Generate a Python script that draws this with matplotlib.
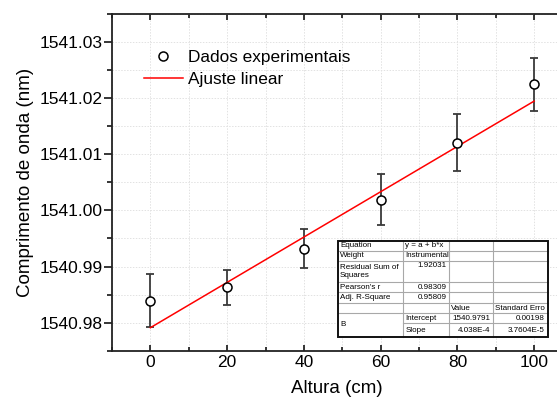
import numpy as np
import matplotlib
matplotlib.use('Agg')
import matplotlib.pyplot as plt
from matplotlib.ticker import MultipleLocator, FormatStrFormatter
from matplotlib.lines import Line2D
from matplotlib.patches import Rectangle

plt.rcParams['font.family'] = ['Liberation Sans', 'DejaVu Sans']
plt.rcParams['font.size'] = 12.5

# data
altura = [0, 20, 40, 60, 80, 100]
comprimento = [1540.9839, 1540.9863, 1540.9932, 1541.0019, 1541.0121, 1541.0225]
erro = [0.0047, 0.0031, 0.0035, 0.0045, 0.0050, 0.0047]

# linear fit reported in the table
intercept = 1540.9791
slope = 4.038e-4

table_rows = [
    ['Equation', 'y = a + b*x', '', ''],
    ['Weight', 'Instrumental', '', ''],
    ['Residual Sum of\nSquares', '1.92031', '', ''],
    ["Pearson's r", '0.98309', '', ''],
    ['Adj. R-Square', '0.95809', '', ''],
    ['', '', 'Value', 'Standard Erro'],
    ['B', 'Intercept', '1540.9791', '0.00198'],
    ['', 'Slope', '4.038E-4', '3.7604E-5'],
]

W, H = 557, 405
fig = plt.figure(figsize=(W / 100, H / 100), dpi=100)
ax = fig.add_axes([112 / W, (H - 350.7) / H, (W - 112) / W + 0.01, (350.7 - 14) / H])


def px(x, y):
    return x / W, 1 - y / H


### main plot
ax.errorbar(altura, comprimento, yerr=erro, fmt='none', ecolor='#3a3a3a',
            elinewidth=1.3, capsize=2.6, capthick=1.3, zorder=3)
xfit = np.array([altura[0], altura[-1]])
ax.plot(xfit, intercept + slope * xfit, color='#ff0000', lw=1.1, zorder=4)
ax.plot(altura, comprimento, 'o', ms=6.5, mfc='white', mec='black', mew=1.1, zorder=5)

ax.set_xlim(-10, 107.4)
ax.set_ylim(1540.975, 1541.035)
ax.xaxis.set_major_locator(MultipleLocator(20))
ax.xaxis.set_minor_locator(MultipleLocator(10))
ax.yaxis.set_major_locator(MultipleLocator(0.01))
ax.yaxis.set_minor_locator(MultipleLocator(0.005))
ax.yaxis.set_major_formatter(FormatStrFormatter('%.2f'))

ax.grid(True, which='both', color='#e2e2e2', lw=0.7, linestyle=(0, (1.5, 1.5)))
ax.set_axisbelow(True)
ax.tick_params(axis='x', which='both', direction='in', top=True, pad=3)
ax.tick_params(axis='x', which='major', length=4.5, width=1.1)
ax.tick_params(axis='x', which='minor', length=3, width=1.1)
ax.tick_params(axis='y', which='major', direction='out', length=6, width=1.1, pad=1)
ax.tick_params(axis='y', which='minor', direction='out', length=3.5, width=1.1)
for s in ax.spines.values():
    s.set_linewidth(1.3)
    s.set_color('#222222')

ax.set_xlabel('Altura (cm)', fontsize=13.5, labelpad=7)
ax.set_ylabel('Comprimento de onda (nm)', fontsize=13.5, labelpad=4)

handles = [Line2D([], [], ls='none', marker='o', ms=6.5, mfc='white', mec='black', mew=1.1),
           Line2D([], [], color='#ff0000', lw=1.1)]
fig.legend(handles, ['Dados experimentais', 'Ajuste linear'], loc='upper left',
           bbox_to_anchor=px(135, 41), borderpad=0, frameon=False, fontsize=12.4,
           handlelength=2.3, handletextpad=0.3, labelspacing=0.4)

### fit table
cols = [338, 403.3, 449.3, 493.3, 548]
rows = [241, 250.7, 260.7, 282.3, 292.3, 302.7, 313.3, 323.3, 336.7]
x0, y0 = px(cols[0], rows[-1])
x1, y1 = px(cols[-1], rows[0])
fig.add_artist(Rectangle((x0, y0), x1 - x0, y1 - y0, transform=fig.transFigure,
                         facecolor='white', edgecolor='none', zorder=6))
grey = '#a8a8a8'
for c in cols[1:-1]:
    fig.add_artist(Line2D([c / W, c / W], [y0, y1], transform=fig.transFigure,
                          color=grey, lw=0.8, zorder=7))
for i, r in enumerate(rows[1:-1]):
    xs = cols[1] if i == 6 else cols[0]
    fig.add_artist(Line2D([xs / W, x1], [1 - r / H, 1 - r / H], transform=fig.transFigure,
                          color=grey, lw=0.8, zorder=7))
fig.add_artist(Rectangle((x0, y0), x1 - x0, y1 - y0, transform=fig.transFigure,
                         facecolor='none', edgecolor='#111111', lw=1.4, zorder=8))

fs = 5.8
for i, row in enumerate(table_rows):
    ya, yb = rows[i], rows[i + 1]
    for j, txt in enumerate(row):
        if not txt:
            continue
        left = j == 0 or txt in ('y = a + b*x', 'Instrumental', 'Intercept', 'Slope',
                                 'Value', 'Standard Erro')
        ty = (ya + yb) / 2
        if txt == 'B':
            ty = (rows[6] + rows[8]) / 2
        if i == 2 and j == 1:
            ty = ya + 5
        if left:
            fig.text((cols[j] + 2) / W, 1 - ty / H, txt, fontsize=fs, ha='left',
                     va='center', zorder=9, linespacing=1.15)
        else:
            fig.text((cols[j + 1] - 3) / W, 1 - ty / H, txt, fontsize=fs, ha='right',
                     va='center', zorder=9)

fig.savefig('out.png', dpi=100)
